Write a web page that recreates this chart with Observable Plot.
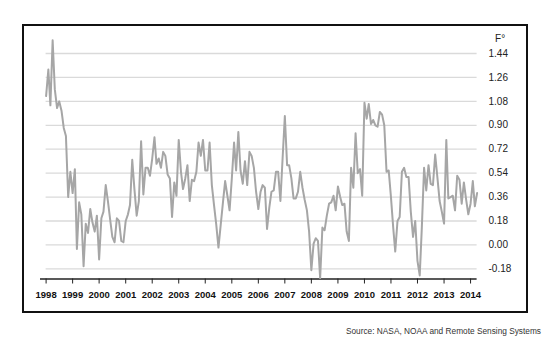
<!DOCTYPE html>
<html>
<head>
<meta charset="utf-8">
<script src="https://cdn.jsdelivr.net/npm/d3@7"></script>
<script src="https://cdn.jsdelivr.net/npm/@observablehq/plot@0.6"></script>
<style>
  html, body { margin: 0; padding: 0; background: #fff; }
  #wrap { position: relative; width: 550px; height: 344px; overflow: hidden; font-family: "Liberation Sans", Arial, sans-serif; }
  #box { position: absolute; left: 22px; top: 24px; width: 506px; height: 289px; border: 2px solid #111; box-sizing: border-box; }
  #chart { position: absolute; left: 0; top: 0; }
  #source { position: absolute; right: 9px; top: 326px; font-size: 8.3px; color: #333; white-space: nowrap; }
</style>
</head>
<body>
<div id="wrap">
  <div id="box"></div>
  <div id="chart"></div>
  <div id="source">Source: NASA, NOAA and Remote Sensing Systems</div>
</div>
<script>
// Monthly temperature anomaly (°F), Jan 1998 – Apr 2014
const startMonth = new Date(Date.UTC(1998, 0, 1));
const endMonth = new Date(Date.UTC(2014, 4, 1)); // exclusive
const values = [
  1.12, 1.32, 1.05, 1.54, 1.17, 1.03, 1.08, 1.01, 0.88, 0.82, 0.36, 0.55,
  0.39, 0.57, -0.03, 0.32, 0.23, -0.16, 0.16, 0.09, 0.27, 0.17, 0.10, 0.22,
  -0.11, 0.20, 0.25, 0.45, 0.33, 0.19, 0.06, 0.02, 0.20, 0.18, 0.03, 0.02,
  0.18, 0.23, 0.30, 0.64, 0.42, 0.22, 0.33, 0.78, 0.38, 0.58, 0.58, 0.52,
  0.65, 0.81, 0.61, 0.65, 0.58, 0.70, 0.67, 0.53, 0.50, 0.21, 0.47, 0.37,
  0.79, 0.55, 0.42, 0.50, 0.60, 0.33, 0.49, 0.48, 0.55, 0.77, 0.67, 0.79,
  0.56, 0.56, 0.77, 0.45, 0.30, 0.15, -0.02, 0.15, 0.32, 0.48, 0.37, 0.26,
  0.50, 0.77, 0.56, 0.85, 0.56, 0.46, 0.63, 0.45, 0.70, 0.67, 0.58, 0.40,
  0.27, 0.40, 0.45, 0.43, 0.12, 0.28, 0.40, 0.41, 0.55, 0.55, 0.33, 0.65,
  0.97, 0.60, 0.60, 0.50, 0.35, 0.35, 0.40, 0.55, 0.43, 0.34, 0.26, 0.10,
  -0.19, 0.01, 0.05, 0.03, -0.25, 0.13, 0.11, 0.22, 0.31, 0.32, 0.37, 0.26,
  0.44, 0.36, 0.30, 0.31, 0.10, 0.03, 0.58, 0.43, 0.84, 0.54, 0.57, 0.37,
  1.07, 0.95, 1.06, 0.91, 0.94, 0.90, 0.89, 1.00, 0.98, 0.90, 0.55, 0.56,
  0.36, 0.13, -0.05, 0.18, 0.21, 0.55, 0.58, 0.51, 0.51, 0.25, 0.06, 0.18,
  -0.12, -0.23, 0.13, 0.58, 0.41, 0.60, 0.46, 0.45, 0.68, 0.51, 0.33, 0.25,
  0.16, 0.79, 0.35, 0.36, 0.37, 0.26, 0.52, 0.49, 0.31, 0.47, 0.34, 0.23,
  0.31, 0.48, 0.29, 0.39
];
const yTicks = [-0.18, 0.00, 0.18, 0.36, 0.54, 0.72, 0.90, 1.08, 1.26, 1.44];
const yearTicks = d3.range(1998, 2015).map(y => new Date(Date.UTC(y, 0, 1)));
const unitLabel = "F°";

const months = d3.utcMonth.range(startMonth, endMonth);
const data = months.map((date, i) => ({date, value: values[i]}));

const yMin = -0.2566;
const xDomain = [startMonth, months[months.length - 1]];

const chart = Plot.plot({
  width: 550,
  height: 344,
  marginLeft: 45.6,
  marginRight: 73.4,
  marginTop: 29.1,
  marginBottom: 65.5,
  style: {background: "transparent", fontFamily: "'Liberation Sans', Arial, sans-serif", color: "#1a1a1a"},
  x: {type: "utc", domain: xDomain},
  y: {domain: [yMin, 1.62]},
  marks: [
    Plot.ruleY(yTicks, {stroke: "#dadada", strokeWidth: 1.3}),
    Plot.ruleY([yMin], {stroke: "#222", strokeWidth: 1.4, insetLeft: -5.6}),
    Plot.axisX({
      ticks: yearTicks,
      tickFormat: d3.utcFormat("%Y"),
      tickSize: 5,
      tickPadding: 7.5,
      fontSize: 9.5,
      fontWeight: "bold",
      label: null,
      stroke: "#222",
      fill: "#111"
    }),
    Plot.axisY({
      anchor: "right",
      ticks: yTicks,
      tickSize: 0,
      tickPadding: 11.4,
      tickFormat: d => d.toFixed(2),
      fontSize: 10,
      label: null,
      fill: "#222"
    }),
    Plot.line(data, {x: "date", y: "value", stroke: "#a6a6a6", strokeWidth: 2}),
    Plot.text([unitLabel], {
      text: d => d,
      frameAnchor: "top-right",
      dx: 23,
      dy: 9.4,
      textAnchor: "middle",
      lineAnchor: "middle",
      fontSize: 10,
      fill: "#222"
    })
  ]
});
document.getElementById("chart").appendChild(chart);
</script>
</body>
</html>
